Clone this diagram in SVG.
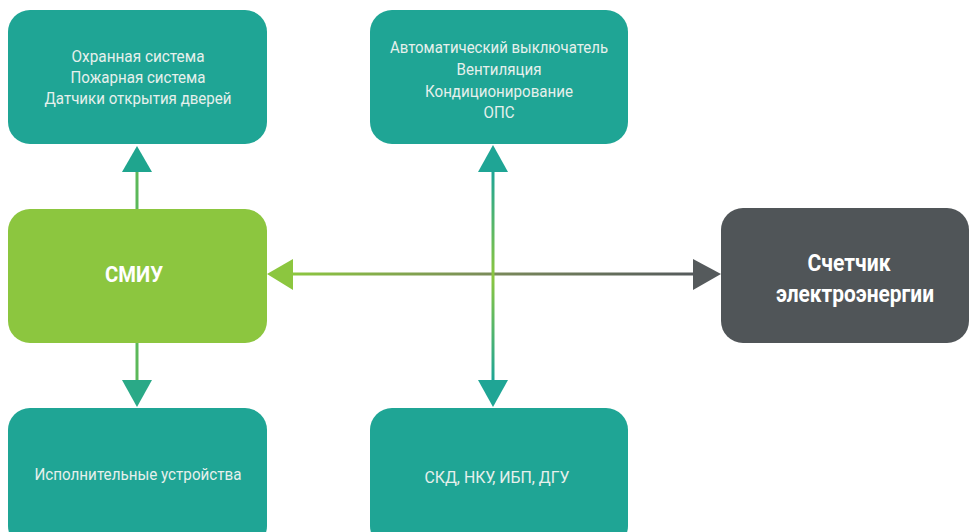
<svg xmlns="http://www.w3.org/2000/svg" width="970" height="532" viewBox="0 0 970 532">
<style>
.teal{fill:#1fa595}
.green{fill:#8cc63f}
.gray{fill:#505558}
.t{font-family:Roboto,"Liberation Sans",sans-serif;fill:#e6f0ec;text-anchor:middle}
.s{font-size:16px}
.b{font-size:22px;font-weight:bold;fill:#ffffff}
.m{font-size:23px}
</style>
<defs>
<linearGradient id="hg" x1="293" y1="0" x2="693" y2="0" gradientUnits="userSpaceOnUse">
<stop offset="0" stop-color="#8cc63f"/>
<stop offset="0.5" stop-color="#7a8a5a"/>
<stop offset="1" stop-color="#555a5c"/>
</linearGradient>
<linearGradient id="vg" x1="0" y1="172" x2="0" y2="380" gradientUnits="userSpaceOnUse">
<stop offset="0" stop-color="#1fa595"/>
<stop offset="0.5" stop-color="#8cc63f"/>
<stop offset="1" stop-color="#1fa595"/>
</linearGradient>
</defs>
<g id="connectors">
<line x1="137" y1="170" x2="137" y2="209" stroke="#5cb85a" stroke-width="3"/>
<polygon points="137,146 122,172 152,172" fill="#1fa58e"/>
<line x1="137" y1="343" x2="137" y2="382" stroke="#5cb85a" stroke-width="3"/>
<polygon points="137,407 122,380 152,380" fill="#2aa987"/>
<line x1="291" y1="274" x2="695" y2="274" stroke="url(#hg)" stroke-width="3"/>
<polygon points="267,274 293,259 293,290" fill="#8cc63f"/>
<polygon points="721,274 693,259 693,290" fill="#555a5c"/>
<line x1="493" y1="170" x2="493" y2="382" stroke="url(#vg)" stroke-width="3"/>
<polygon points="493,145 478,172 508,172" fill="#1fa595"/>
<polygon points="493,407 478,380 508,380" fill="#1fa595"/>
</g>
<g id="node-security">
<rect x="8" y="10" width="259" height="134" rx="22" class="teal"/>
<text class="t s" x="138" y="62" textLength="133" lengthAdjust="spacingAndGlyphs">Охранная система</text>
<text class="t s" x="138" y="83" textLength="135" lengthAdjust="spacingAndGlyphs">Пожарная система</text>
<text class="t s" x="138" y="104" textLength="187" lengthAdjust="spacingAndGlyphs">Датчики открытия дверей</text>
</g>
<g id="node-automation">
<rect x="370" y="10" width="258" height="134" rx="22" class="teal"/>
<text class="t s" x="499" y="53" textLength="218" lengthAdjust="spacingAndGlyphs">Автоматический выключатель</text>
<text class="t s" x="499" y="75" textLength="85" lengthAdjust="spacingAndGlyphs">Вентиляция</text>
<text class="t s" x="499" y="97" textLength="148" lengthAdjust="spacingAndGlyphs">Кондиционирование</text>
<text class="t s" x="499" y="118" textLength="31" lengthAdjust="spacingAndGlyphs">ОПС</text>
</g>
<g id="node-smiu">
<rect x="8" y="209" width="259" height="134" rx="22" class="green"/>
<text class="t b" x="134" y="282" textLength="58" lengthAdjust="spacingAndGlyphs">СМИУ</text>
</g>
<g id="node-meter">
<rect x="721" y="208" width="248" height="135" rx="22" class="gray"/>
<text class="t b m" x="849" y="271" textLength="83" lengthAdjust="spacingAndGlyphs">Счетчик</text>
<text class="t b m" x="855" y="302" textLength="158" lengthAdjust="spacingAndGlyphs">электроэнергии</text>
</g>
<g id="node-actuators">
<rect x="8" y="408" width="259" height="140" rx="22" class="teal"/>
<text class="t s" x="138" y="480" textLength="207" lengthAdjust="spacingAndGlyphs">Исполнительные устройства</text>
</g>
<g id="node-systems">
<rect x="370" y="408" width="258" height="140" rx="22" class="teal"/>
<text class="t s" x="497" y="483" textLength="145" lengthAdjust="spacingAndGlyphs">СКД, НКУ, ИБП, ДГУ</text>
</g>
</svg>
